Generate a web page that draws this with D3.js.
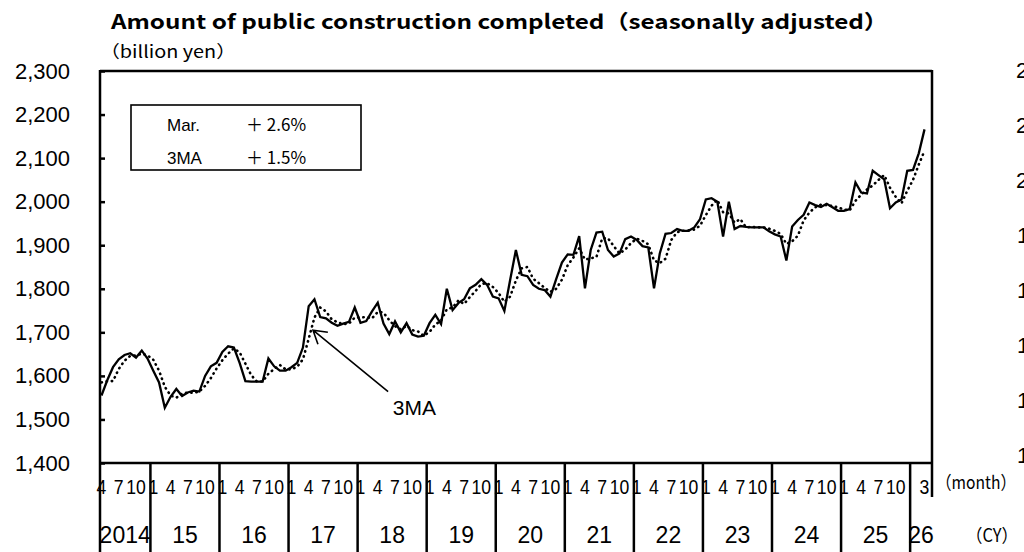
<!DOCTYPE html>
<html>
<head>
<meta charset="utf-8">
<script src="https://cdn.jsdelivr.net/npm/d3@7"></script>
<style>
  body { margin: 0; background: #fff; }
  svg { display: block; font-family: "Liberation Sans", Arial, sans-serif; }
</style>
</head>
<body>
<svg id="chart" width="1024" height="552"></svg>
<script>
// ---- data ----
const titleText = "Amount of public construction completed（seasonally adjusted）";
const unitText = "（billion yen）";
const firstYear = 2014, firstMonth = 4;      // series starts April 2014
const yearLabels = ["2014","15","16","17","18","19","20","21","22","23","24","25","26"];
const monthTickLabels = [1, 4, 7, 10];
const yTicks = [1400, 1500, 1600, 1700, 1800, 1900, 2000, 2100, 2200, 2300];
// tick labels of the neighbouring chart, cut off at the right edge
const clippedTicks = ["2,200","2,100","2,000","1,900","1,800","1,700","1,600","1,500"];

// monthly amount, Apr 2014 .. Mar 2026
const completed = [
  1555,1590,1620,1638,1648,1652,1642,1658,1640,1612,1585,1527,
  1552,1570,1554,1562,1566,1564,1600,1622,1630,1655,1668,1665,
  1630,1588,1587,1587,1587,1640,1622,1612,1612,1620,1630,1665,
  1760,1776,1735,1732,1722,1715,1720,1724,1757,1722,1726,1748,
  1768,1720,1696,1725,1700,1721,1695,1690,1692,1721,1740,1719,
  1800,1751,1767,1776,1801,1809,1822,1809,1782,1778,1749,1820,
  1889,1832,1829,1809,1800,1797,1782,1822,1860,1879,1878,1921,
  1801,1889,1929,1931,1889,1874,1881,1914,1920,1912,1898,1895,
  1801,1881,1926,1928,1937,1933,1933,1941,1960,2005,2008,2000,
  1920,2000,1937,1944,1942,1941,1941,1941,1932,1925,1920,1865,
  1943,1958,1970,1998,1992,1988,1995,1987,1979,1979,1983,2044,
  2021,2019,2071,2061,2051,1985,1998,2005,2071,2073,2111,2166
];
// 3-month moving average (dotted)
const ma3 = [
  1585,1588,1588,1616,1635,1646,1647,1651,1647,1637,1612,1575,
  1555,1550,1559,1562,1561,1564,1577,1595,1617,1636,1651,1663,
  1654,1628,1602,1587,1587,1605,1616,1625,1615,1615,1621,1638,
  1685,1734,1757,1748,1730,1723,1719,1720,1734,1734,1735,1732,
  1747,1745,1728,1714,1707,1715,1705,1702,1692,1701,1718,1727,
  1753,1757,1773,1765,1781,1795,1811,1813,1804,1790,1770,1782,
  1819,1847,1850,1823,1813,1802,1793,1800,1821,1854,1872,1893,
  1867,1870,1873,1916,1916,1898,1881,1890,1905,1915,1910,1902,
  1865,1859,1869,1912,1930,1933,1934,1936,1945,1969,1991,2004,
  1976,1973,1952,1960,1941,1942,1941,1941,1938,1933,1926,1903,
  1909,1922,1957,1975,1987,1993,1992,1990,1987,1982,1980,2002,
  2016,2028,2037,2050,2061,2032,2011,1996,2025,2050,2085,2117
];

const legendLabels = ["Mar.", "3MA"];
const legendChanges = ["＋ 2.6%", "＋ 1.5%"];

// arrow note: [monthIndex, value] of tail, tip, label
const noteTail = [49.8, 1564], noteTip = [36.75, 1705], noteText = [50.6, 1510];

// ---- layout ----
const svg = d3.select("#chart");
const plot = {left: 100, right: 932, top: 71, bottom: 463};

const x = d3.scaleLinear().domain([-0.26, 144.3]).range([plot.left, plot.right]);
const y = d3.scaleLinear().domain([1400, 2300]).range([plot.bottom, plot.top]);

const idx = completed.map((d, i) => i);
const last = idx.length - 1;
const monthOf = i => ((firstMonth - 1 + i) % 12) + 1;

// title + unit
svg.append("text")
  .attr("x", 111).attr("y", 29)
  .attr("textLength", 777).attr("lengthAdjust", "spacingAndGlyphs")
  .style("font-family", "'Noto Sans CJK JP', sans-serif")
  .style("font-weight", "bold").style("font-size", "20px")
  .text(titleText);

svg.append("text")
  .attr("x", 100).attr("y", 58)
  .attr("textLength", 136).attr("lengthAdjust", "spacingAndGlyphs")
  .style("font-family", "'Noto Sans CJK JP', sans-serif")
  .style("font-size", "17px")
  .text(unitText);

// y axis
const yAxis = svg.append("g")
  .attr("transform", "translate(" + plot.left + ",0)")
  .call(d3.axisLeft(y).tickValues(yTicks).tickSize(-5).tickSizeOuter(0)
    .tickPadding(30).tickFormat(d3.format(",")));
yAxis.select(".domain").remove();
yAxis.selectAll(".tick line").attr("stroke", "#000").attr("stroke-width", 2.5);
yAxis.selectAll(".tick text")
  .style("font-family", "'Liberation Sans', Arial, sans-serif")
  .style("font-size", "22px").attr("fill", "#000");

// frame
const frame = svg.append("g").attr("stroke", "#000").attr("stroke-width", 2.5).attr("fill", "none");
frame.append("line").attr("x1", plot.left).attr("x2", plot.left).attr("y1", plot.top - 1).attr("y2", 552);
frame.append("line").attr("x1", plot.left).attr("x2", plot.right).attr("y1", plot.top).attr("y2", plot.top);
frame.append("line").attr("x1", plot.right).attr("x2", plot.right).attr("y1", plot.top - 1).attr("y2", 497);
frame.append("line").attr("x1", plot.left).attr("x2", plot.right).attr("y1", plot.bottom).attr("y2", plot.bottom);

// year separators
const yearStarts = yearLabels.map((d, k) => k === 0 ? x.domain()[0] : 12 * k - (firstMonth - 1) - 0.5);
frame.selectAll(".sep")
  .data(yearStarts.slice(1))
  .enter().append("line")
  .attr("x1", d => x(d)).attr("x2", d => x(d))
  .attr("y1", plot.bottom).attr("y2", 552);

// month labels (every quarter; the last year only shows its final month)
const monthTicks = idx.filter(i =>
  (monthTickLabels.includes(monthOf(i)) && i < last - 2) || i === last);
svg.append("g").selectAll("text")
  .data(monthTicks)
  .enter().append("text")
  .attr("transform", d => "translate(" + x(d) + ",494) scale(0.84,1)")
  .attr("text-anchor", "middle")
  .style("font-size", "21px")
  .text(d => monthOf(d));

// year labels
const yearEnds = yearStarts.slice(1).concat([x.domain()[1]]);
svg.append("g").selectAll("text")
  .data(yearLabels)
  .enter().append("text")
  .attr("x", (d, k) => (x(yearStarts[k]) + x(yearEnds[k])) / 2)
  .attr("y", 543)
  .attr("text-anchor", "middle")
  .style("font-size", "23px")
  .text(d => d);

svg.append("text").attr("x", 936).attr("y", 489)
  .attr("textLength", 80).attr("lengthAdjust", "spacingAndGlyphs")
  .style("font-family", "'Noto Sans CJK JP', sans-serif").style("font-size", "18px")
  .text("（month）");
svg.append("text").attr("x", 966).attr("y", 542)
  .attr("textLength", 52).attr("lengthAdjust", "spacingAndGlyphs")
  .style("font-family", "'Noto Sans CJK JP', sans-serif").style("font-size", "18px")
  .text("（CY）");

// clipped labels of the next chart
svg.append("g").selectAll("text")
  .data(clippedTicks)
  .enter().append("text")
  .attr("x", d => d[0] === "1" ? 1017 : 1016)
  .attr("y", (d, k) => 78 + 55 * k)
  .style("font-size", "22px")
  .text(d => d);

// lines
const line = d3.line().x((d, i) => x(i)).y(d => y(d));
svg.append("path").datum(ma3)
  .attr("d", line).attr("fill", "none")
  .attr("stroke", "#000").attr("stroke-width", 2.6)
  .attr("stroke-linecap", "round").attr("stroke-dasharray", "0.4 4.8");
svg.append("path").datum(completed)
  .attr("d", line).attr("fill", "none")
  .attr("stroke", "#000").attr("stroke-width", 2.3)
  .attr("stroke-linejoin", "miter");

// legend box
const lg = svg.append("g");
lg.append("rect").attr("x", 131).attr("y", 105).attr("width", 230).attr("height", 65)
  .attr("fill", "#fff").attr("stroke", "#000").attr("stroke-width", 1.6);
lg.selectAll(".lab").data(legendLabels).enter().append("text")
  .attr("x", 167).attr("y", (d, k) => 131 + k * 33)
  .style("font-size", "17px").text(d => d);
lg.selectAll(".chg").data(legendChanges).enter().append("text")
  .attr("x", 246).attr("y", (d, k) => 131 + k * 33)
  .style("font-family", "'Noto Sans CJK JP', sans-serif")
  .style("font-size", "17px").text(d => d);

// arrow note
const tx = x(noteTail[0]), ty = y(noteTail[1]);
const px = x(noteTip[0]), py = y(noteTip[1]);
const ang = Math.atan2(ty - py, tx - px), wing = 15, spread = 0.55;
svg.append("path")
  .attr("d", "M" + tx + "," + ty + "L" + px + "," + py +
    "M" + (px + wing * Math.cos(ang - spread)) + "," + (py + wing * Math.sin(ang - spread)) +
    "L" + px + "," + py +
    "L" + (px + wing * Math.cos(ang + spread)) + "," + (py + wing * Math.sin(ang + spread)))
  .attr("fill", "none").attr("stroke", "#000").attr("stroke-width", 1.6);
svg.append("text").attr("x", x(noteText[0])).attr("y", y(noteText[1]))
  .style("font-size", "21px").text("3MA");
</script>
</body>
</html>
